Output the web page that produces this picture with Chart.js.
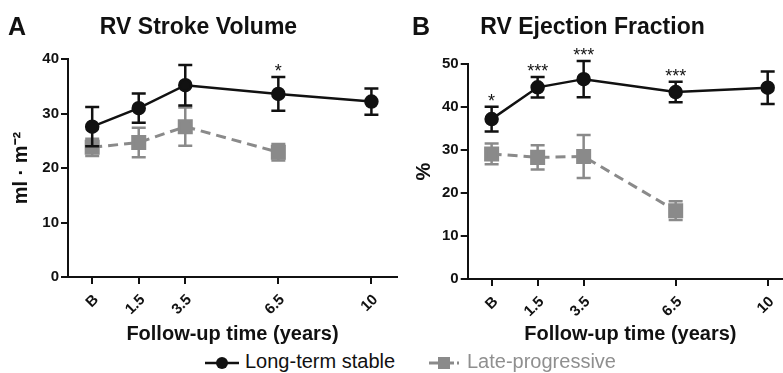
<!DOCTYPE html>
<html>
<head>
<meta charset="utf-8">
<script src="https://cdn.jsdelivr.net/npm/chart.js@4.4.1/dist/chart.umd.min.js"></script>
<style>
    html, body { margin: 0; padding: 0; background: #fff; }
    body { position: relative; width: 783px; height: 373px; overflow: hidden;
           font-family: "Liberation Sans", Arial, sans-serif; }
    .panel { position: absolute; top: 0; }
    #panelA { left: 0; }
    #panelB { left: 392px; }
    .legend-item { position: absolute; top: 350px; height: 24px; line-height: 22px; font-size: 20px; white-space: nowrap; }
    .legend-item svg { position: absolute; top: 4px; left: 0; }
    .legend-item span { position: absolute; top: 0; }
</style>
</head>
<body>
<canvas id="panelA" class="panel" width="450" height="350"></canvas>
<canvas id="panelB" class="panel" width="460" height="350"></canvas>

<div class="legend-item" style="left:205px">
    <svg width="36" height="16"><line x1="0" y1="9" x2="34" y2="9" stroke="#111" stroke-width="2.5"/><circle cx="17" cy="9" r="6" fill="#111"/></svg>
    <span style="left:40px;color:#111">Long-term stable</span>
</div>
<div class="legend-item" style="left:429px">
    <svg width="36" height="16"><line x1="0" y1="9" x2="9" y2="9" stroke="#8a8a8a" stroke-width="3"/><rect x="9" y="3" width="12" height="12" fill="#8a8a8a"/><line x1="21" y1="9" x2="25" y2="9" stroke="#8a8a8a" stroke-width="3"/><line x1="28" y1="9" x2="30" y2="9" stroke="#8a8a8a" stroke-width="3"/></svg>
    <span style="left:38px;color:#8f8f8f">Late-progressive</span>
</div>

<script>
// Follow-up visits: categorical spacing as in the figure (gap before 6.5 and 10).
const xLabels = ['B', '1.5', '3.5', '6.5', '10'];
const xPositions = [0, 1, 2, 4, 6];

// Panel A — RV stroke volume (ml·m⁻²), mean and error
const svStableMean = [27.6, 31.0, 35.2, 33.6, 32.2];
const svStableErr = [3.6, 2.7, 3.7, 3.1, 2.4];
const svProgMean = [23.8, 24.7, 27.6, 22.9];
const svProgErr = [1.6, 2.7, 3.5, 1.5];
const svSig = ['', '', '', '*', ''];

// Panel B — RV ejection fraction (%)
const efStableMean = [37.2, 44.6, 46.5, 43.5, 44.5];
const efStableErr = [2.9, 2.4, 4.2, 2.4, 3.8];
const efProgMean = [29.1, 28.3, 28.5, 15.9];
const efProgErr = [2.4, 2.8, 5.0, 2.2];
const efSig = ['*', '***', '***', '***', ''];

const FONT = '"Liberation Sans", Arial, sans-serif';
const INK = '#111';
const GREY = '#8a8a8a';

function _points(means) {
    return means.map((v, i) => ({ x: xPositions[i], y: v }));
}

// Draws whiskers under each dataset, and the significance marks above the stable series.
const errorBars = {
    id: 'errorBars',
    beforeDatasetDraw(chart, args) {
        const ds = chart.data.datasets[args.index];
        if (!ds.errors) return;
        const ctx = chart.ctx;
        const y = chart.scales.y;
        ctx.save();
        ctx.strokeStyle = ds.borderColor;
        ctx.lineWidth = 2.5;
        ctx.setLineDash([]);
        args.meta.data.forEach((pt, i) => {
            const v = ds.data[i].y, e = ds.errors[i];
            const top = y.getPixelForValue(v + e), bot = y.getPixelForValue(v - e);
            ctx.beginPath();
            ctx.moveTo(pt.x, top); ctx.lineTo(pt.x, bot);
            ctx.moveTo(pt.x - 7, top); ctx.lineTo(pt.x + 7, top);
            ctx.moveTo(pt.x - 7, bot); ctx.lineTo(pt.x + 7, bot);
            ctx.stroke();
        });
        ctx.restore();
    },
    afterDatasetsDraw(chart, args, opts) {
        const ds = chart.data.datasets[0];
        const meta = chart.getDatasetMeta(0);
        const ctx = chart.ctx;
        const y = chart.scales.y;
        ctx.save();
        ctx.fillStyle = INK;
        ctx.font = '18px ' + FONT;
        ctx.textAlign = 'center';
        ctx.textBaseline = 'alphabetic';
        (opts.stars || []).forEach((s, i) => {
            if (!s) return;
            const top = y.getPixelForValue(ds.data[i].y + ds.errors[i]);
            ctx.fillText(s, meta.data[i].x, top);
        });
        // panel letter
        ctx.font = 'bold 25px ' + FONT;
        ctx.textAlign = 'left';
        ctx.textBaseline = 'middle';
        ctx.fillText(opts.letter, opts.letterX, 28);
        ctx.restore();
    },
};

function makePanel(id, cfg) {
    return new Chart(document.getElementById(id), {
        type: 'line',
        data: {
            datasets: [
                {
                    label: 'Long-term stable',
                    data: _points(cfg.stable),
                    errors: cfg.stableErr,
                    borderColor: INK,
                    backgroundColor: INK,
                    borderWidth: 2.5,
                    pointStyle: 'circle',
                    pointRadius: 6,
                    tension: 0,
                },
                {
                    label: 'Late-progressive',
                    data: _points(cfg.prog),
                    errors: cfg.progErr,
                    borderColor: GREY,
                    backgroundColor: GREY,
                    borderWidth: 3,
                    borderDash: [10, 6],
                    pointStyle: 'rect',
                    pointRadius: 8.5,
                    tension: 0,
                },
            ],
        },
        options: {
            responsive: false,
            animation: false,
            events: [],
            layout: { padding: { left: 0, right: cfg.padRight, top: 0, bottom: 0 } },
            plugins: {
                legend: { display: false },
                tooltip: { enabled: false },
                title: {
                    display: true,
                    text: cfg.title,
                    color: INK,
                    font: { family: FONT, size: 23, weight: 'bold' },
                    padding: { top: 14, bottom: cfg.titleGap },
                },
                errorBars: { stars: cfg.stars, letter: cfg.letter, letterX: cfg.letterX },
            },
            scales: {
                x: {
                    type: 'linear',
                    min: -0.52,
                    max: 6.55,
                    afterBuildTicks: (s) => { s.ticks = xPositions.map((v) => ({ value: v })); },
                    afterFit: (s) => { s.height = cfg.xHeight; },
                    ticks: {
                        autoSkip: false,
                        minRotation: 45,
                        maxRotation: 45,
                        padding: 7,
                        labelOffset: 4,
                        color: INK,
                        font: { family: FONT, size: 15, weight: 'bold' },
                        callback: (v) => xLabels[xPositions.indexOf(v)],
                    },
                    grid: { drawOnChartArea: false, tickLength: 7, color: INK, lineWidth: 2 },
                    border: { color: INK, width: 2 },
                    title: {
                        display: true,
                        text: 'Follow-up time (years)',
                        color: INK,
                        font: { family: FONT, size: 20, weight: 'bold' },
                        padding: { top: 0, bottom: 4 },
                    },
                },
                y: {
                    min: 0,
                    max: cfg.yMax,
                    afterFit: (s) => { s.width = cfg.yWidth; },
                    ticks: {
                        stepSize: 10,
                        padding: 2,
                        color: INK,
                        font: { family: FONT, size: 15, weight: 'bold' },
                    },
                    grid: { drawOnChartArea: false, tickLength: 7, color: INK, lineWidth: 2 },
                    border: { color: INK, width: 2 },
                    title: {
                        display: true,
                        text: cfg.yTitle,
                        color: INK,
                        font: { family: FONT, size: 20, weight: 'bold' },
                        padding: { top: cfg.yTitlePad, bottom: 0 },
                    },
                },
            },
        },
        plugins: [errorBars],
    });
}

makePanel('panelA', {
    title: 'RV Stroke Volume', letter: 'A', letterX: 8,
    stable: svStableMean, stableErr: svStableErr,
    prog: svProgMean, progErr: svProgErr, stars: svSig,
    yMax: 40, yTitle: 'ml · m⁻²', yTitlePad: 9, yWidth: 68,
    padRight: 53, titleGap: 17.5, xHeight: 73,
});

makePanel('panelB', {
    title: 'RV Ejection Fraction', letter: 'B', letterX: 20,
    stable: efStableMean, stableErr: efStableErr,
    prog: efProgMean, progErr: efProgErr, stars: efSig,
    yMax: 50, yTitle: '%', yTitlePad: 20, yWidth: 75.7,
    padRight: 59, titleGap: 22.5, xHeight: 71,
});
</script>
</body>
</html>
